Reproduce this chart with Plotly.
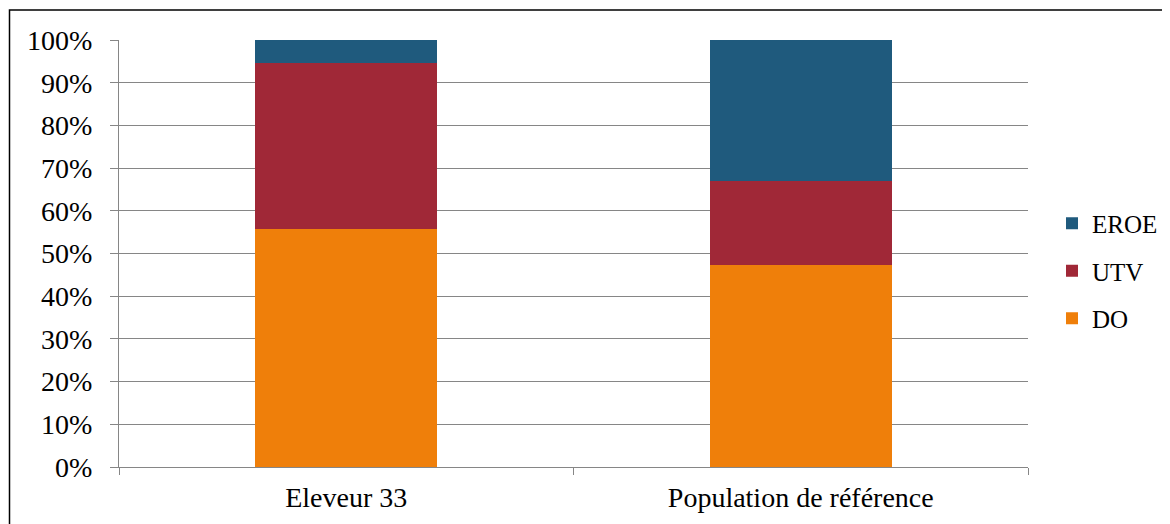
import plotly.graph_objects as go

categories = ["Eleveur 33", "Population de référence"]
series_names = ["DO", "UTV", "EROE"]
do_values = [55.7, 47.2]
utv_values = [38.9, 19.7]
eroe_values = [5.4, 33.1]
colors = {"DO": "#EF7F0A", "UTV": "#A02837", "EROE": "#1F5A7D"}
legend_rank = {"EROE": 1, "UTV": 2, "DO": 3}

# page body has an 8px margin, so the figure is a bit smaller than the window
W, H = 1162, 516
ML, MR, MT, MB = 111, 142, 32, 57
FONT = "Liberation Serif"

fig = go.Figure()
for name, vals in zip(series_names, [do_values, utv_values, eroe_values]):
    fig.add_trace(go.Bar(
        x=categories, y=vals, name=name, legendgroup=name,
        legendrank=legend_rank[name],
        marker=dict(color=colors[name], line=dict(width=0)),
    ))

pw = W - ML - MR
ph = H - MT - MB

fig.update_layout(
    width=W, height=H,
    margin=dict(l=ML, r=MR, t=MT, b=MB, pad=0, autoexpand=False),
    barmode="stack", bargap=0.6,
    plot_bgcolor="white", paper_bgcolor="white",
    font=dict(family=FONT, size=28, color="black"),
    showlegend=True,
    legend=dict(
        x=1 + 24 / pw, xanchor="left", xref="paper",
        y=0.5 - 17.5 / ph, yanchor="middle",
        traceorder="grouped", tracegroupgap=12,
        font=dict(family=FONT, size=25, color="black"),
        itemwidth=30,
    ),
)
fig.update_yaxes(
    range=[0, 100], dtick=10, ticksuffix="%",
    showgrid=True, gridcolor="#868686", gridwidth=1.3,
    showline=True, linecolor="#868686", linewidth=1.3,
    ticks="outside", ticklen=8, tickcolor="#868686", tickwidth=1.3,
    ticklabelstandoff=12, zeroline=False,
    tickfont=dict(family=FONT, size=28),
)
fig.update_xaxes(
    showline=True, linecolor="#868686", linewidth=1.3,
    ticks="outside", tickson="boundaries", ticklen=7, tickcolor="#868686", tickwidth=1.3,
    ticklabelstandoff=5,
    tickfont=dict(family=FONT, size=28),
)

# outer chart border
def px_x(x):
    return (x - ML) / pw
def px_y(y):
    return (H - MB - y) / ph
fig.add_shape(type="rect", xref="paper", yref="paper",
              x0=px_x(1.5), x1=px_x(1160), y0=px_y(2), y1=px_y(530),
              line=dict(color="black", width=1.5), fillcolor="rgba(0,0,0,0)", layer="above")

fig.write_html("out.html")
